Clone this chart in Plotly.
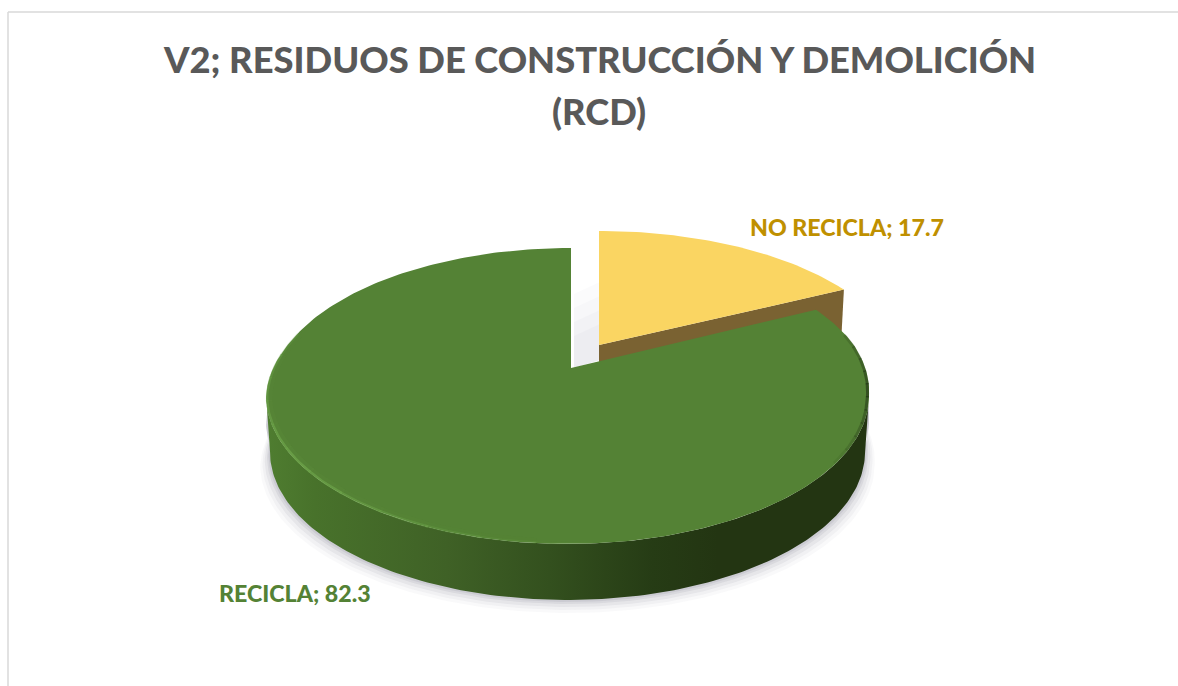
import numpy as np
import plotly.graph_objects as go

# --- data ---
categories = ["NO RECICLA", "RECICLA"]
values = [17.7, 82.3]
title_lines = ["V2; RESIDUOS DE CONSTRUCCIÓN Y DEMOLICIÓN", "(RCD)"]
top_colors = ["#FAD562", "#548235"]
label_colors = ["#BF9000", "#548235"]

# --- pseudo-3D projection of the pie disc ---
W, H = 1178, 686
APEX_X, APEX_Y = 571, 368
A, B, K = 296, 142.7, 0.189
DEPTH = 56
FLOOR_SCALE = 0.987
EXPLODE_X, EXPLODE_Y, EXPLODE_YS = 28, -23, 0.95
FRONT_SHIFT = -3.5


def project(theta_deg, r=1.0, cx=APEX_X, cy=APEX_Y, sx=1.0, sy=1.0, dz=0.0):
    th = np.radians(theta_deg)
    u, v = r * np.sin(th), r * np.cos(th)
    w = 1 + K * v
    shift = FRONT_SHIFT * np.clip((0.2 - v) / 0.4, 0, 1)
    return cx + shift + sx * A * u / w, cy + dz - sy * B * v / w


def poly(x, y, **kw):
    return go.Scatter(x=list(x), y=list(y), mode="lines", fill="toself",
                      line=dict(width=0), hoverinfo="skip", showlegend=False, **kw)


angle_no = values[0] / sum(values) * 360
fig = go.Figure()

# soft ground shadow under the pie
theta_all = np.linspace(0, 360, 361)
for grow, alpha in [(13, .035), (10, .05), (7, .07), (4, .09), (2, .10)]:
    x, y = project(theta_all, sx=FLOOR_SCALE, dz=DEPTH + grow)
    x = APEX_X + (x - APEX_X) * (1 + grow / 400)
    mask = (theta_all > 75) & (theta_all < 285)
    x, y = x[mask], y[mask]
    x0, y0 = project(theta_all[mask], dz=DEPTH - 30)
    fig.add_trace(poly(np.r_[x, x0[::-1]], np.r_[y, y0[::-1]],
                       fillcolor=f"rgba(90,90,110,{alpha})"))

# shadow seen through the gap between the slices
for top, alpha in [(282, .03), (296, .03), (310, .04), (324, .04)]:
    fig.add_trace(poly([574, 600, 600, 574], [top + 12, top, APEX_Y - 8, APEX_Y],
                       fillcolor=f"rgba(120,120,150,{alpha})"))

# exploded slice: cut face, then top face
ex, ey = APEX_X + EXPLODE_X, APEX_Y + EXPLODE_Y
theta_y = np.linspace(0, angle_no, 60)
cx_, cy_ = project(angle_no, cx=ex, cy=ey, sy=EXPLODE_YS)
fig.add_trace(poly([ex, cx_, cx_ - 3, ex], [ey, cy_, cy_ + DEPTH, ey + DEPTH],
                   fillcolor="#7A6232"))
xy, yy = project(theta_y, cx=ex, cy=ey, sy=EXPLODE_YS)
fig.add_trace(go.Scatter(x=np.r_[ex, xy, ex], y=np.r_[ey, yy, ey], mode="lines",
                         fill="toself", fillcolor=top_colors[0], line=dict(width=0),
                         name=categories[0], showlegend=False,
                         hovertext=f"{categories[0]}; {values[0]}", hoverinfo="text"))

# main slice: wall with horizontal gradient
theta_front = np.linspace(101, 259, 160)
xt, yt = project(theta_front)
xb, yb = project(theta_front, sx=FLOOR_SCALE, dz=DEPTH)
fig.add_trace(go.Scatter(
    x=np.r_[xt, xb[::-1]], y=np.r_[yt, yb[::-1]], mode="lines", fill="toself",
    line=dict(width=0), hoverinfo="skip", showlegend=False,
    fillgradient=dict(type="horizontal", colorscale=[
        [0.0, "#4F7D30"], [0.08, "#48722B"], [0.3, "#3F6126"], [0.47, "#33501E"],
        [0.64, "#263C15"], [0.75, "#233512"], [1.0, "#233512"]])))

# main slice: top face
theta_g = np.linspace(angle_no, 360, 300)
xg, yg = project(theta_g)
fig.add_trace(go.Scatter(x=np.r_[APEX_X, xg, APEX_X], y=np.r_[APEX_Y, yg, APEX_Y], mode="lines",
                         fill="toself", fillcolor=top_colors[1], line=dict(width=0),
                         name=categories[1], showlegend=False,
                         hovertext=f"{categories[1]}; {values[1]}", hoverinfo="text"))

# bevel: lit rim at the front left, dark rim at the right
def rim(t0, t1, color, width, r=0.997):
    x, y = project(np.linspace(t0, t1, 8), r=r)
    fig.add_trace(go.Scatter(x=x, y=y, mode="lines", hoverinfo="skip", showlegend=False,
                             line=dict(color=color, width=width)))

for t in np.arange(176, 284, 9):
    mix = min(1, abs(t - 232) / 54)
    rim(t, t + 9.5, f"rgba(110,165,75,{0.75 * (1 - mix) + .08:.2f})", 2.5)
    rim(t, t + 9.5, f"rgba(100,150,65,{0.18 * (1 - mix):.2f})", 6, r=0.99)
for t in np.arange(76, 132, 5):
    a = max(0.0, 1 - abs(t - 96) / 30)
    rim(t, t + 5.5, f"rgba(25,40,15,{a * .55:.2f})", 3, r=0.995)

# frame
frame_x = [8, 8, None, 8, W]
frame_y = [H, 12, None, 12, 12]
fig.add_trace(go.Scatter(x=frame_x, y=frame_y, mode="lines", hoverinfo="skip", showlegend=False,
                         line=dict(color="#D9D9D9", width=1.5)))

fig.update_layout(
    width=W, height=H, margin=dict(l=0, r=0, t=0, b=0), paper_bgcolor="white",
    plot_bgcolor="white", showlegend=False,
    xaxis=dict(range=[0, W], visible=False, fixedrange=True),
    yaxis=dict(range=[H, 0], visible=False, fixedrange=True),
    annotations=[
        dict(x=599, y=59, text=title_lines[0], showarrow=False,
             font=dict(family="Lato", size=36.3, color="#595959", weight=900)),
        dict(x=599, y=111, text=title_lines[1], showarrow=False,
             font=dict(family="Lato", size=36.3, color="#595959", weight=900)),
        dict(x=748, y=227, xanchor="left", text=f"{categories[0]}; {values[0]}", showarrow=False,
             font=dict(family="Lato", size=23.2, color=label_colors[0], weight=900)),
        dict(x=217, y=593, xanchor="left", text=f"{categories[1]}; {values[1]}", showarrow=False,
             font=dict(family="Lato", size=23.2, color=label_colors[1], weight=900)),
    ],
)
fig.write_html("out.html", config=dict(displayModeBar=False),
               post_script="document.body.style.margin='0';")
